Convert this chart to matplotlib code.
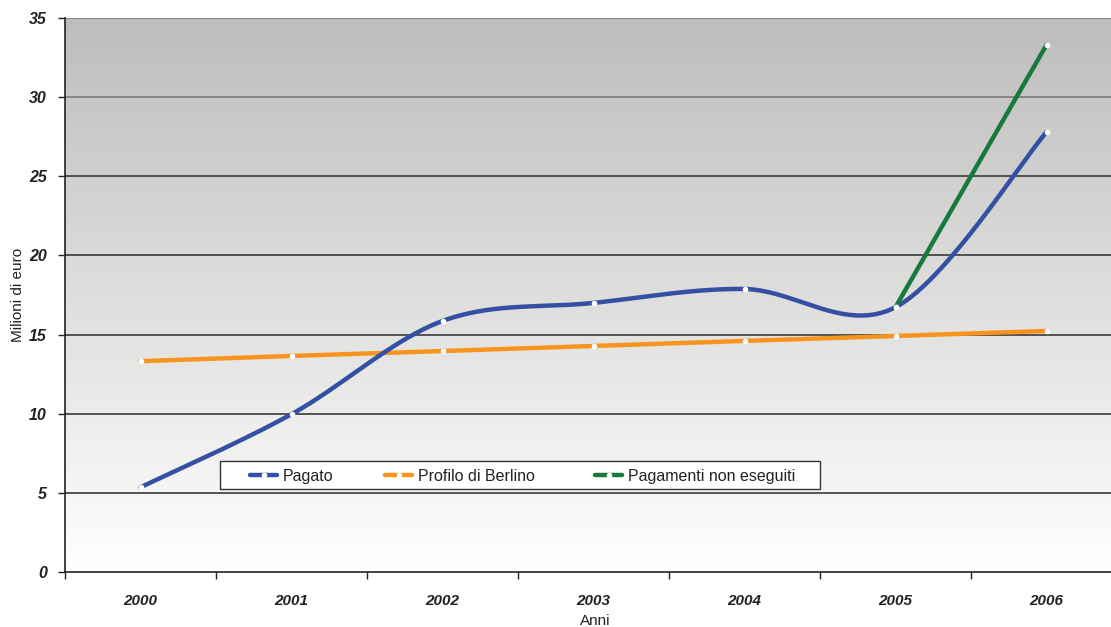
import numpy as np
import matplotlib
matplotlib.use("Agg")
import matplotlib.pyplot as plt
from matplotlib.lines import Line2D
from matplotlib.patches import Rectangle

plt.rcParams['font.family'] = ['Liberation Sans', 'DejaVu Sans']

# --- data -------------------------------------------------------------
anni = ["2000", "2001", "2002", "2003", "2004", "2005", "2006"]
pagato = [5.35, 9.97, 15.86, 17.0, 17.88, 16.73, 27.8]
profilo_berlino = [13.32, 13.65, 13.96, 14.28, 14.6, 14.91, 15.23]
pagamenti_anni = ["2005", "2006"]
pagamenti_non_eseguiti = [16.73, 33.3]
y_ticks = [0, 5, 10, 15, 20, 25, 30, 35]
serie_labels = ["Pagato", "Profilo di Berlino", "Pagamenti non eseguiti"]

BLUE = "#3450a4"
ORANGE = "#f7941d"
GREEN = "#177a3c"


def smooth(xs, ys, n=40):
    """Piecewise cubic Bezier through the points (spreadsheet-style smoothing)."""
    xs = np.asarray(xs, float)
    ys = np.asarray(ys, float)
    P = np.column_stack([xs, ys])
    ext = np.vstack([P[0], P, P[-1]])
    out = []
    for i in range(len(P) - 1):
        p0, p1, p2, p3 = ext[i], ext[i + 1], ext[i + 2], ext[i + 3]
        c1 = p1 + (p2 - p0) / 6.0
        c2 = p2 - (p3 - p1) / 6.0
        t = np.linspace(0, 1, n)[:, None]
        seg = ((1 - t) ** 3) * p1 + 3 * ((1 - t) ** 2) * t * c1 + 3 * (1 - t) * t ** 2 * c2 + t ** 3 * p2
        out.append(seg if i == 0 else seg[1:])
    seg = np.vstack(out)
    return seg[:, 0], seg[:, 1]


W, H = 1111, 627
fig = plt.figure(figsize=(W / 100, H / 100), dpi=100)
left, right, top, bottom = 65, 1122, 18, 572
ax = fig.add_axes([left / W, 1 - bottom / H, (right - left) / W, (bottom - top) / H])

x = np.arange(len(anni))
ax.set_xlim(-0.5, len(anni) - 0.5)

# gradient plot-area background: grey at the top fading to white at the bottom
grad = np.linspace(0, 1, 256)[:, None]
c_top = np.array([189, 189, 189]) / 255
c_bot = np.array([255, 255, 253]) / 255
img = c_top[None, None, :] * (1 - grad[:, :, None]) + c_bot[None, None, :] * grad[:, :, None]
ax.imshow(img, extent=(-0.5, len(anni) - 0.5, 0, 35), origin="upper", aspect="auto",
          zorder=0, interpolation="bilinear")
ax.set_ylim(0, 35)

# horizontal grid
for v in y_ticks[1:]:
    col = "#7a7a7a" if v >= 30 else "#3a3a3a"
    ax.axhline(v, color=col, lw=1.2, zorder=1)

# series
sx, sy = smooth(x, pagato)
ax.plot(sx, sy, color=BLUE, lw=3.2, solid_capstyle="round", zorder=3)
ax.plot(x, pagato, ls="none", marker="o", ms=3, mfc="white", mec="white", zorder=5)

ax.plot(x, profilo_berlino, color=ORANGE, lw=3.2, solid_capstyle="round", zorder=2)
ax.plot(x, profilo_berlino, ls="none", marker="o", ms=3, mfc="white", mec="white", zorder=5)

gx = [anni.index(a) for a in pagamenti_anni]
ax.plot(gx, pagamenti_non_eseguiti, color=GREEN, lw=3.2, solid_capstyle="round", zorder=4)
ax.plot(gx, pagamenti_non_eseguiti, ls="none", marker="o", ms=3, mfc="white", mec="white", zorder=6)

# axes styling
for s in ("top", "right"):
    ax.spines[s].set_visible(False)
for s in ("left", "bottom"):
    ax.spines[s].set_color("#222222")
    ax.spines[s].set_linewidth(1.2)
    ax.spines[s].set_zorder(7)

ax.set_yticks(y_ticks)
ax.set_yticklabels([str(v) for v in y_ticks], fontsize=11.5, fontweight="bold",
                   fontstyle="italic", color="#222222")
ax.tick_params(axis="y", length=5, width=1, color="#222222", pad=8)

ax.set_xticks(x)
ax.set_xticklabels(anni, fontsize=11, fontweight="bold", fontstyle="italic", color="#222222")
ax.set_xticks(np.arange(len(anni) + 1) - 0.5, minor=True)
ax.tick_params(axis="x", which="major", length=0, pad=16)
ax.tick_params(axis="x", which="minor", length=5, width=1, color="#222222")

fig.text(595 / W, 1 - 621 / H, "Anni", ha="center", va="center", fontsize=11, color="#222222")
fig.text(18 / W, 1 - 295 / H, "Milioni di euro", ha="center", va="center", rotation=90,
         fontsize=11, color="#222222")

# legend box with three entries in a row
fig.add_artist(Rectangle((220 / W, 1 - 489 / H), 600 / W, 28 / H, transform=fig.transFigure,
                         facecolor="white", edgecolor="#333333", lw=1.0, zorder=9))
entry_x = [250, 385, 595]
yc = 1 - 475 / H
y_base = 1 - 481 / H
for ex, col, lab in zip(entry_x, [BLUE, ORANGE, GREEN], serie_labels):
    fig.add_artist(Line2D([ex / W, (ex + 27) / W], [yc, yc], transform=fig.transFigure,
                          color=col, lw=3.2, solid_capstyle="round", zorder=10))
    fig.add_artist(Line2D([(ex + 13.5) / W], [yc], transform=fig.transFigure, ls="none",
                          marker="o", ms=3, mfc="white", mec="white", zorder=11))
    fig.text((ex + 33) / W, y_base, lab, ha="left", va="baseline", fontsize=11.5,
             color="#222222", zorder=11)

fig.savefig("out.png", dpi=100, facecolor="white")
